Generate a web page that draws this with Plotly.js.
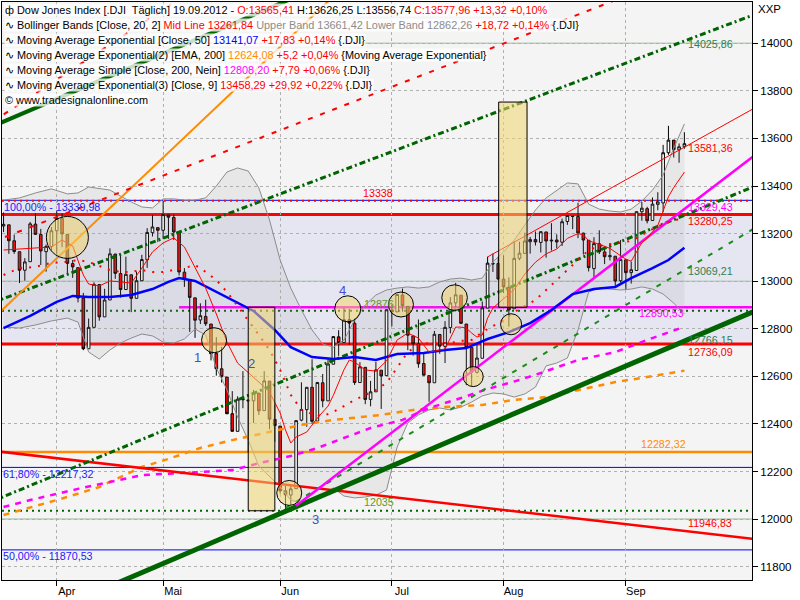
<!DOCTYPE html>
<html>
<head>
<meta charset="utf-8">
<script src="https://cdn.plot.ly/plotly-3.0.1.min.js"></script>
<style>html,body{margin:0;padding:0;background:#fff}#chart{width:800px;height:600px}</style>
</head>
<body>
<div id="chart"></div>
<script>
// ---------------- DATA ----------------
const dates = ['2012-03-19','2012-03-20','2012-03-21','2012-03-22','2012-03-23','2012-03-26','2012-03-27','2012-03-28','2012-03-29','2012-03-30',
'2012-04-02','2012-04-03','2012-04-04','2012-04-05','2012-04-09','2012-04-10','2012-04-11','2012-04-12','2012-04-13','2012-04-16','2012-04-17','2012-04-18','2012-04-19','2012-04-20','2012-04-23','2012-04-24','2012-04-25','2012-04-26','2012-04-27','2012-04-30',
'2012-05-01','2012-05-02','2012-05-03','2012-05-04','2012-05-07','2012-05-08','2012-05-09','2012-05-10','2012-05-11','2012-05-14','2012-05-15','2012-05-16','2012-05-17','2012-05-18','2012-05-21','2012-05-22','2012-05-23','2012-05-24','2012-05-25','2012-05-29','2012-05-30','2012-05-31',
'2012-06-01','2012-06-04','2012-06-05','2012-06-06','2012-06-07','2012-06-08','2012-06-11','2012-06-12','2012-06-13','2012-06-14','2012-06-15','2012-06-18','2012-06-19','2012-06-20','2012-06-21','2012-06-22','2012-06-25','2012-06-26','2012-06-27','2012-06-28','2012-06-29',
'2012-07-02','2012-07-03','2012-07-05','2012-07-06','2012-07-09','2012-07-10','2012-07-11','2012-07-12','2012-07-13','2012-07-16','2012-07-17','2012-07-18','2012-07-19','2012-07-20','2012-07-23','2012-07-24','2012-07-25','2012-07-26','2012-07-27','2012-07-30','2012-07-31',
'2012-08-01','2012-08-02','2012-08-03','2012-08-06','2012-08-07','2012-08-08','2012-08-09','2012-08-10','2012-08-13','2012-08-14','2012-08-15','2012-08-16','2012-08-17','2012-08-20','2012-08-21','2012-08-22','2012-08-23','2012-08-24','2012-08-27','2012-08-28','2012-08-29','2012-08-30','2012-08-31',
'2012-09-04','2012-09-05','2012-09-06','2012-09-07','2012-09-10','2012-09-11','2012-09-12','2012-09-13','2012-09-14','2012-09-17','2012-09-18','2012-09-19'];
const open = [13232,13237,13170,13124,13046,13082,13240,13196,13124,13146,
13212,13264,13197,13074,13057,12929,12716,12806,12986,12850,12921,13114,13032,12965,13027,12928,13002,13090,13204,13225,
13214,13279,13268,13206,13038,13007,12930,12837,12852,12820,12696,12632,12597,12443,12369,12504,12501,12497,12529,12456,12580,12419,
12391,12119,12101,12128,12416,12460,12554,12412,12573,12497,12651,12766,12742,12838,12823,12574,12638,12503,12535,12626,12603,
12879,12871,12942,12894,12770,12736,12654,12603,12573,12776,12726,12805,12909,12941,12820,12721,12617,12676,12887,13075,13074,
13009,12975,12884,13096,13117,13166,13175,13163,13207,13169,13173,13164,13251,13273,13272,13202,13172,13053,13157,13123,13103,13105,13002,
13090,13036,13045,13292,13305,13255,13323,13329,13540,13593,13552,13565.41];
const high = [13289,13237,13196,13124,13097,13249,13285,13220,13154,13228,
13297,13284,13197,13089,13057,12951,12843,12995,12986,12968,13138,13115,13110,13103,13027,13040,13111,13223,13279,13226,
13338,13279,13280,13206,13055,13007,12930,12907,12922,12820,12765,12724,12597,12538,12516,12622,12501,12543,12531,12622,12580,12480,
12391,12139,12147,12415,12575,12554,12672,12577,12610,12678,12768,12794,12887,12883,12843,12660,12638,12581,12661,12626,12880,
12901,12945,12969,12894,12770,12839,12695,12603,12791,12776,12832,12933,12993,12941,12820,12721,12735,12915,13103,13116,13103,
13109,13016,13166,13166,13204,13186,13209,13210,13207,13244,13197,13263,13278,13273,13330,13204,13172,13185,13214,13146,13160,13105,13173,
13091,13082,13294,13334,13313,13352,13374,13573,13653,13593,13579,13626.25];
const low = [13207,13115,13115,12992,13002,13082,13195,13068,13040,13130,
13114,13143,13030,13014,12911,12710,12716,12806,12834,12850,12921,13010,12931,12965,12870,12928,13002,13056,13188,13165,
13178,13178,13173,13024,12976,12787,12762,12820,12812,12667,12603,12574,12441,12369,12369,12466,12281,12404,12438,12456,12378,12325,
12107,12035,12060,12128,12411,12388,12400,12412,12470,12497,12651,12686,12742,12732,12564,12574,12483,12474,12535,12463,12603,
12810,12871,12872,12710,12687,12636,12603,12493,12573,12695,12656,12781,12890,12820,12563,12560,12612,12676,12887,13039,13008,
12950,12809,12884,13088,13117,13116,13150,13121,13099,13129,13138,13148,13237,13219,13181,13112,13041,13017,13114,13072,13087,12980,12994,
12963,12990,13045,13254,13243,13255,13298,13290,13531,13520,13498,13556.74];
const close = [13239,13170,13125,13046,13081,13241,13197,13127,13146,13212,
13264,13199,13075,13060,12929,12716,12806,12987,12850,12921,13115,13033,12965,13029,12928,13002,13091,13205,13228,13214,
13280,13269,13207,13039,13009,12932,12836,12855,12821,12695,12632,12599,12443,12369,12504,12502,12497,12530,12455,12581,12420,12393,
12119,12102,12127,12414,12461,12554,12411,12574,12497,12652,12767,12742,12838,12824,12574,12640,12503,12535,12627,12602,12880,
12871,12944,12897,12773,12737,12653,12605,12573,12777,12727,12806,12909,12943,12823,12722,12618,12677,12888,13076,13073,13009,
12976,12879,13096,13118,13169,13175,13165,13208,13169,13172,13165,13250,13276,13272,13203,13173,13057,13158,13124,13103,13107,13001,13091,
13036,13048,13292,13307,13254,13324,13333,13540,13593,13553,13565,13577.96];

// Bollinger Bands (20,2)
const bbDates = ['2012-03-19','2012-03-22','2012-03-27','2012-03-30','2012-04-04','2012-04-09','2012-04-11','2012-04-13','2012-04-17','2012-04-19','2012-04-23','2012-04-25','2012-04-27','2012-05-01','2012-05-03','2012-05-07','2012-05-09','2012-05-11','2012-05-15','2012-05-17','2012-05-21','2012-05-23','2012-05-25','2012-05-30','2012-06-01','2012-06-05','2012-06-07','2012-06-11','2012-06-13','2012-06-15','2012-06-19','2012-06-21','2012-06-25','2012-06-27','2012-06-29','2012-07-03','2012-07-06','2012-07-10','2012-07-12','2012-07-16','2012-07-18','2012-07-20','2012-07-24','2012-07-26','2012-07-30','2012-08-01','2012-08-03','2012-08-07','2012-08-09','2012-08-13','2012-08-15','2012-08-17','2012-08-21','2012-08-23','2012-08-27','2012-08-29','2012-08-31','2012-09-05','2012-09-07','2012-09-11','2012-09-13','2012-09-17','2012-09-19'];
const bbUpper = [13341,13350,13371,13388,13367,13371,13396,13388,13383,13358,13333,13312,13308,13346,13346,13341,13341,13350,13400,13459,13476,13463,13392,13257,13089,12971,12879,12795,12736,12723,12753,12837,12900,12942,12963,12971,12976,12971,12976,12997,13009,13013,13005,13013,13081,13123,13173,13236,13299,13350,13383,13413,13409,13324,13303,13295,13291,13303,13337,13383,13446,13560,13661];
const bbMid = [13026,13055,13060,13077,13081,13089,13081,13064,13047,13039,13039,13047,13039,13039,13047,13055,13068,13039,13005,12955,12896,12837,12774,12711,12627,12522,12459,12442,12433,12450,12475,12501,12522,12543,12572,12635,12702,12732,12740,12740,12740,12749,12753,12786,12812,12837,12870,12896,12921,12963,13005,13047,13089,13131,13148,13156,13161,13169,13194,13219,13240,13257,13262];
const bbLower = [12807,12803,12816,12833,12845,12828,12702,12673,12711,12740,12761,12778,12770,12744,12740,12757,12799,12774,12635,12543,12429,12332,12223,12181,12135,12080,12068,12080,12105,12131,12097,12089,12093,12101,12122,12303,12404,12438,12459,12467,12459,12471,12492,12518,12530,12526,12513,12526,12555,12644,12656,12677,12795,12955,12971,12967,12963,12967,12976,12967,12946,12908,12862];

// EMA 9 (red thin)
const ema9Dates = ['2012-03-19','2012-03-22','2012-03-27','2012-03-30','2012-04-03','2012-04-05','2012-04-10','2012-04-11','2012-04-13','2012-04-17','2012-04-19','2012-04-23','2012-04-25','2012-04-27','2012-05-01','2012-05-03','2012-05-07','2012-05-09','2012-05-11','2012-05-15','2012-05-17','2012-05-21','2012-05-23','2012-05-25','2012-05-30','2012-06-01','2012-06-04','2012-06-05','2012-06-06','2012-06-08','2012-06-12','2012-06-14','2012-06-15','2012-06-19','2012-06-20','2012-06-21','2012-06-25','2012-06-27','2012-06-29','2012-07-02','2012-07-03','2012-07-06','2012-07-10','2012-07-12','2012-07-16','2012-07-17','2012-07-18','2012-07-19','2012-07-20','2012-07-23','2012-07-24','2012-07-25','2012-07-26','2012-07-27','2012-07-30','2012-08-01','2012-08-03','2012-08-07','2012-08-09','2012-08-13','2012-08-15','2012-08-17','2012-08-21','2012-08-22','2012-08-23','2012-08-27','2012-08-29','2012-08-31','2012-09-04','2012-09-05','2012-09-06','2012-09-07','2012-09-10','2012-09-11','2012-09-12','2012-09-13','2012-09-14','2012-09-17','2012-09-18','2012-09-19'];
const ema9 = [13131,13135,13140,13144,13173,13148,13026,12988,12980,13001,12997,12992,13055,13123,13161,13182,13144,13055,12971,12862,12744,12656,12618,12576,12534,12446,12375,12320,12345,12366,12425,12475,12520,12628,12669,12660,12627,12622,12665,12711,12753,12782,12761,12702,12711,12715,12761,12807,12807,12803,12782,12765,12774,12845,12887,12925,12965,13030,13080,13115,13135,13180,13200,13195,13170,13155,13138,13107,13093,13084,13125,13162,13180,13209,13234,13295,13355,13394,13428,13458.29];

// EMA 50 (blue)
const ema50Dates = ['2012-03-19','2012-03-26','2012-04-02','2012-04-05','2012-04-11','2012-04-17','2012-04-23','2012-04-27','2012-05-02','2012-05-04','2012-05-09','2012-05-14','2012-05-18','2012-05-24','2012-05-31','2012-06-05','2012-06-11','2012-06-15','2012-06-21','2012-06-27','2012-07-03','2012-07-11','2012-07-17','2012-07-23','2012-07-27','2012-08-02','2012-08-08','2012-08-14','2012-08-20','2012-08-24','2012-08-30','2012-09-05','2012-09-11','2012-09-14','2012-09-19'];
const ema50 = [12803,12854,12913,12938,12934,12934,12942,12967,12997,13013,13001,12967,12921,12875,12795,12723,12681,12673,12681,12669,12694,12698,12711,12719,12757,12786,12824,12879,12946,12967,12976,13013,13055,13089,13141.07];

// EMA 200 of EMA (orange dashed)
const ema200Dates = ['2012-03-19','2012-04-04','2012-04-13','2012-04-25','2012-05-02','2012-05-10','2012-05-18','2012-05-30','2012-06-07','2012-06-15','2012-06-28','2012-07-09','2012-07-17','2012-07-26','2012-08-03','2012-08-13','2012-08-21','2012-08-30','2012-09-10','2012-09-19'];
const ema200 = [12017,12093,12135,12219,12253,12299,12332,12366,12396,12417,12438,12459,12471,12480,12501,12513,12543,12576,12597,12624.08];

// SMA 200 (magenta dashed)
const sma200Dates = ['2012-03-19','2012-03-26','2012-04-09','2012-04-25','2012-05-10','2012-05-18','2012-05-29','2012-06-05','2012-06-12','2012-06-20','2012-06-26','2012-07-05','2012-07-12','2012-07-20','2012-07-27','2012-08-06','2012-08-10','2012-08-21','2012-08-30','2012-09-10','2012-09-19'];
const sma200 = [12051,12080,12127,12185,12198,12206,12240,12265,12299,12349,12383,12417,12467,12509,12547,12585,12614,12669,12702,12753,12808.20];

// Trend lines (two end points each)
const fullSpan = ['2012-03-15','2012-10-09'];
const greenSupport = [11508,12901];
const greenUpper = [13652,15045];
const greenDashDotUpper = [12910,14145];
const greenDashDotMid = [12076,13425];
const orangeTrend = [12842,15933];
const redDashSteep = [13671,15819];
const redDashFlat = [13166,14433];
const redFalling = [12287,11909];
const greenDashedSpan = ['2012-06-04','2012-10-09'];
const greenDashed = [12047,13260];
const magentaSpan = ['2012-06-06','2012-10-09'];
const magentaTrend = [12056,13577];
const redChannelSpan = ['2012-07-27','2012-10-09'];
const redChannel = [13102,13763];

// Horizontal levels
const fib100 = 13339.98, fib618 = 12217.32, fib50 = 11870.53;
const redLevelHigh = 13280.25, redLevelLow = 12736.09;
const dottedRed = 13338;
const magentaLevel = 12890.53, magentaLevelStart = '2012-05-04';
const greenDotted = [12876, 12035];
const orangeLevel = 12282.32;
const sageLevels = [12000, 13000, 14000];

// Highlight boxes
const boxA = {x:['2012-05-23','2012-05-31'], y:[12035,12890.53]};
const boxB = {x:['2012-07-31 02:00','2012-08-07 10:00'], y:[12890.53,13753]};
const circleDates = ['2012-04-04','2012-05-14 14:00','2012-06-04 17:00','2012-06-19 17:00','2012-07-03 17:00','2012-07-18 19:00','2012-07-24 07:00','2012-08-02 10:00'];
const circleValues = [13184,12752,12110,12884,12902,12931,12599,12819];
const circleRadius = [21,12.5,12.5,13,12.5,12.8,10,10.5];

const holidays = ['2012-04-06','2012-05-28','2012-07-04','2012-09-03'];
const monthTicks = ['2012-04-02','2012-05-01','2012-06-01','2012-07-02','2012-08-01','2012-09-04'];
const monthLabels = ['Apr','Mai','Jun','Jul','Aug','Sep'];

// ---------------- TRACES ----------------
function line(x, y, color, width, dash){
  return {type:'scatter', mode:'lines', x:x, y:y, line:{color:color, width:width, dash:dash||'solid', shape:'linear'}, hoverinfo:'skip'};
}
const traces = [];
traces.push({type:'scatter', mode:'lines', x:bbDates, y:bbUpper, line:{color:'#8c8c8c', width:1}, hoverinfo:'skip'});
traces.push({type:'scatter', mode:'lines', x:bbDates, y:bbLower, line:{color:'#8c8c8c', width:1}, fill:'tonexty', fillcolor:'rgba(150,150,150,0.13)', hoverinfo:'skip'});
traces.push(line(ema200Dates, ema200, '#ff8c00', 2.5, '6px,6px'));
traces.push(line(sma200Dates, sma200, '#ff00ff', 2.5, '6px,6px'));
traces.push(line(fullSpan, redFalling, '#ff0000', 2.5));
traces.push(line(fullSpan, greenSupport, '#006400', 5));
traces.push(line(fullSpan, greenUpper, '#006400', 4));
traces.push(line(fullSpan, greenDashDotUpper, '#006400', 3, '6px,3px,2px,3px'));
traces.push(line(fullSpan, greenDashDotMid, '#006400', 3, '6px,3px,2px,3px'));
traces.push(line(greenDashedSpan, greenDashed, '#1a8c1a', 2, '5px,7px'));
traces.push(line(fullSpan, orangeTrend, '#ff8c00', 2));
traces.push(line(fullSpan, redDashSteep, '#ff0000', 2, '5px,8px'));
traces.push(line(fullSpan, redDashFlat, '#ff0000', 2, '5px,8px'));
traces.push(line(magentaSpan, magentaTrend, '#ff00ff', 2.5));
traces.push(line(redChannelSpan, redChannel, '#ff0000', 1));
traces.push(line(ema50Dates, ema50, '#0000ff', 2.5));
traces.push(line(bbDates, bbMid, '#ff0000', 2, '2px,7px'));
traces.push(line(ema9Dates, ema9, '#ff0000', 1));
traces.push({type:'candlestick', x:dates, open:open, high:high, low:low, close:close,
  increasing:{line:{color:'#000000', width:1}, fillcolor:'#ffffff'},
  decreasing:{line:{color:'#000000', width:1}, fillcolor:'#ff0000'},
  whiskerwidth:0, hoverinfo:'skip'});

// ---------------- SHAPES ----------------
const shapes = [];
shapes.push({type:'rect', xref:'paper', x0:0, x1:1, yref:'y', y0:redLevelLow, y1:redLevelHigh, fillcolor:'#e6e6f2', line:{width:0}, layer:'below'});
sageLevels.forEach(v => shapes.push({type:'line', xref:'paper', x0:0, x1:1, yref:'y', y0:v, y1:v, line:{color:'#b9cdb9', width:1.5}, layer:'between'}));
function hline(v, color, width, dash){ shapes.push({type:'line', xref:'paper', x0:0, x1:1, yref:'y', y0:v, y1:v, line:{color:color, width:width, dash:dash||'solid'}, layer:'between'}); }
hline(fib100, '#0000ff', 1);
hline(dottedRed, '#ff0000', 2, '2px,4px');
hline(redLevelHigh, '#ff0000', 3);
hline(redLevelLow, '#ff0000', 3);
hline(greenDotted[0], '#006400', 2, '2px,4px');
hline(greenDotted[1], '#006400', 2, '2px,4px');
hline(orangeLevel, '#ff8c00', 2.5);
hline(fib618, '#0000ff', 1);
hline(fib50, '#0000ff', 1);
shapes.push({type:'line', xref:'x', x0:magentaLevelStart, x1:'2012-10-09', yref:'y', y0:magentaLevel, y1:magentaLevel, line:{color:'#ff00ff', width:2.5}, layer:'between'});
[boxA, boxB].forEach(b => shapes.push({type:'rect', xref:'x', yref:'y', x0:b.x[0], x1:b.x[1], y0:b.y[0], y1:b.y[1], fillcolor:'rgba(240,214,110,0.55)', line:{color:'#000000', width:1}, layer:'above'}));
circleDates.forEach((d,i) => shapes.push({type:'circle', xref:'x', yref:'y', xsizemode:'pixel', ysizemode:'pixel', xanchor:d, yanchor:circleValues[i],
  x0:-circleRadius[i], x1:circleRadius[i], y0:-circleRadius[i], y1:circleRadius[i], fillcolor:'rgba(240,214,110,0.55)', line:{color:'#000000', width:1}, layer:'above'}));

// ---------------- ANNOTATIONS ----------------
const FONT = 'Liberation Sans, Arial, sans-serif';
const annotations = [];
function px(x){ return (x-2)/750; }
function py(y){ return 1-(y-2)/578; }
function label(text, x, y, color, opts){
  opts = opts || {};
  annotations.push({xref:'paper', yref:'paper', x:px(x), y:py(y), text:text, showarrow:false,
    xanchor:opts.anchor||'left', yanchor:'middle', font:{family:FONT, size:opts.size||10.7, color:color},
    bgcolor:opts.bg||'rgba(0,0,0,0)', borderpad:0});
}
const R='#ff0000', G='#8c8c8c', B='#0000ff', O='#ff8c00', M='#ff00ff';
function s(c,t){ return '<span style="color:'+c+'">'+t+'</span>'; }
const legendRows = [
  'ф Dow Jones Index [.DJI  Täglich] 19.09.2012 - '+s(R,'O:13565,41')+' H:13626,25 L:13556,74 '+s(R,'C:13577,96 +13,32 +0,10%'),
  '∿ Bollinger Bands [Close, 20, 2] '+s(R,'Mid Line 13261,84')+' '+s(G,'Upper Band 13661,42 Lower Band 12862,26')+' '+s(R,'+18,72 +0,14%')+' {.DJI}',
  '∿ Moving Average Exponential [Close, 50] '+s(B,'13141,07')+' '+s(R,'+17,83 +0,14%')+' {.DJI}',
  '∿ Moving Average Exponential(2) [EMA, 200] '+s(O,'12624,08')+' '+s(R,'+5,2 +0,04%')+' {Moving Average Exponential}',
  '∿ Moving Average Simple [Close, 200, Nein] '+s(M,'12808,20')+' '+s(R,'+7,79 +0,06%')+' {.DJI}',
  '∿ Moving Average Exponential(3) [Close, 9] '+s(R,'13458,29 +29,92 +0,22%')+' {.DJI}',
  '© www.tradesignalonline.com'
];
legendRows.forEach((t,i) => label(t, 4, 10+15*i, '#000000', {bg:'rgba(255,255,255,0.78)', size:10.9}));

label('XXP', 757, 9, '#000000', {size:11.5});
label('14025,86', 687, 44, '#2f7f4f');
label('13581,36', 687, 148, R);
label('13329,43', 687, 207, M);
label('13280,25', 687, 221, R);
label('13069,21', 687, 271, '#2f7f4f');
label('12890,53', 638, 313, M);
label('12766,15', 687, 340, '#2f7f4f');
label('12736,09', 687, 352, R);
label('12282,32', 640, 444, O);
label('11946,83', 687, 523, R);
label('13338', 362, 193, R);
label('12876', 363, 304, '#5a9a2a');
label('12035', 363, 502, '#5a9a2a');
label('100,00% - 13339,98', 3, 207, '#2020ff');
label('61,80% - 12217,32', 2, 474, '#2020ff');
label('50,00% - 11870,53', 2, 556, '#2020ff');
label('1', 198, 357, '#4a4ad0', {anchor:'center', size:13});
label('2', 251, 363, '#4a4ad0', {anchor:'center', size:13});
label('3', 315, 519, '#4a4ad0', {anchor:'center', size:13});
label('4', 342, 290, '#4a4ad0', {anchor:'center', size:13});

// ---------------- LAYOUT ----------------
const layout = {
  width:800, height:600,
  margin:{l:2, r:48, t:2, b:20},
  paper_bgcolor:'#ffffff', plot_bgcolor:'#f4f4f4',
  showlegend:false,
  font:{family:FONT, size:10.7, color:'#000000'},
  xaxis:{type:'date', range:['2012-03-16 17:00','2012-10-05 17:00'],
    rangebreaks:[{bounds:['sat','mon']},{values:holidays}],
    rangeslider:{visible:false},
    tickmode:'array', tickvals:monthTicks, ticktext:monthLabels,
    ticks:'outside', ticklen:5, tickcolor:'#000000', ticklabelshift:10, ticklabelstandoff:-4,
    showgrid:true, gridcolor:'#b0b0b0', griddash:'dot', gridwidth:1,
    showline:true, linecolor:'#000000', linewidth:1, mirror:true, zeroline:false,
    tickfont:{family:FONT, size:11, color:'#000000'}},
  yaxis:{side:'right', range:[11744,14173.6], tick0:11800, dtick:200, tickformat:'d',
    ticks:'outside', ticklen:5, tickcolor:'#000000',
    showgrid:true, gridcolor:'#b0b0b0', griddash:'dot', gridwidth:1,
    showline:true, linecolor:'#000000', linewidth:1, mirror:true, zeroline:false,
    tickfont:{family:FONT, size:11.5, color:'#000000'}},
  shapes:shapes,
  annotations:annotations
};

Plotly.newPlot('chart', traces, layout, {staticPlot:true, displayModeBar:false});
</script>
</body>
</html>
